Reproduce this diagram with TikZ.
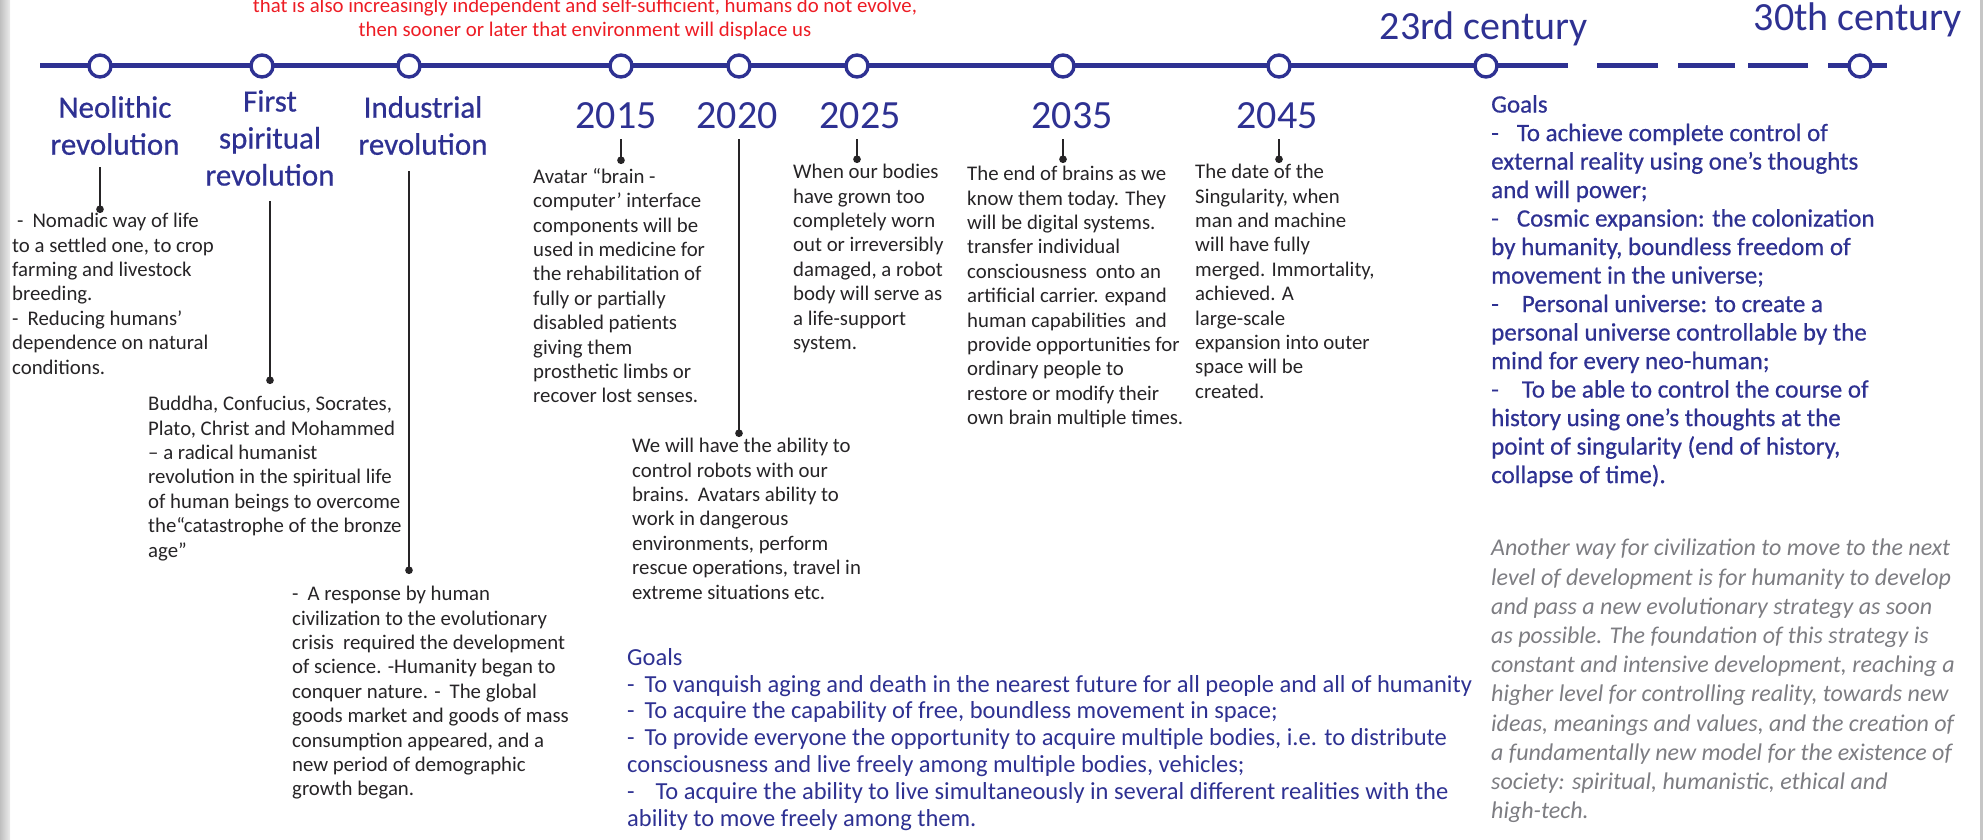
\documentclass[tikz,border=0pt]{standalone}
\usepackage{fontspec}
\setmainfont{Carlito}
\newfontfamily\medfont{Carlito}[FakeBold=0.6]
\usepackage{xcolor}
\usepackage{tikz}
\usetikzlibrary{calc,arrows.meta}

\definecolor{tlblue}{RGB}{46,49,146}
\definecolor{tlred}{RGB}{237,28,36}
\definecolor{txt}{RGB}{38,36,38}
\definecolor{note}{RGB}{125,125,130}

\begin{document}
\begin{tikzpicture}[x=1pt, y=-1pt,
        tl/.style={draw=tlblue, line width=5pt},
        tstop/.style={circle, draw=tlblue, line width=3.4pt, fill=white, minimum size=22pt, inner sep=0pt},
        head/.style={text=tlblue, align=center, anchor=north, inner sep=0pt, font=\medfont\fontsize{31}{37}\selectfont},
        year/.style={text=tlblue, inner sep=0pt, font=\fontsize{40}{44}\selectfont},
        body/.style={text=txt, align=left, anchor=north west, inner sep=0pt, font=\fontsize{20.8}{24.4}\selectfont},
        pin/.style={draw=txt, line width=2.3pt, -{Circle[length=7.5pt]}},
    ]
        \useasboundingbox (0,0) rectangle (1986,840);
        \shade [left color=gray!50, right color=gray!15] (0,0) rectangle (10,840); % page edge
        \fill [gray!45] (1980,0) rectangle (1983,840);

        % red note at the top
        \node [text=tlred, align=center, anchor=south, inner sep=0pt, font=\fontsize{20.8}{24}\selectfont] (warn) at (585,40)
            {that is also increasingly independent and self-sufficient, humans do not evolve,\\
             then sooner or later that environment will displace us};

        % time line
        \coordinate (tl0) at (40,66);
        \coordinate (tl1) at (1568,66);
        \draw [tl] (tl0) -- (tl1);
        \foreach \a/\b in {1597/1658, 1678/1735, 1748/1808, 1828/1887}
            \draw [tl] (\a,66) -- (\b,66);

        \node [tstop] (cneo) at (100,66) {};
        \node [tstop] (cfirst) at (262,66) {};
        \node [tstop] (cind) at (409,66) {};
        \node [tstop] (c2015) at (621,66) {};
        \node [tstop] (c2020) at (739,66) {};
        \node [tstop] (c2025) at (857,66) {};
        \node [tstop] (c2035) at (1063,66) {};
        \node [tstop] (c2045) at (1279,66) {};
        \node [tstop] (c23) at (1486,66) {};
        \node [tstop] (c30) at (1860,66) {};

        % labels of the stops
        \node [head] (hneo) at (115,96) {Neolithic\\revolution};
        \node [head] (hfirst) at (270,90) {First\\spiritual\\revolution};
        \node [head] (hind) at (423,96) {Industrial\\revolution};
        \node [year] (y2015) at (616,116) {2015};
        \node [year] (y2020) at (737,116) {2020};
        \node [year] (y2025) at (860,116) {2025};
        \node [year] (y2035) at (1072,116) {2035};
        \node [year] (y2045) at (1277,116) {2045};
        \node [year, anchor=base] (y23) at (1484,40) {23rd century};
        \node [year, anchor=base] (y30) at (1858,31) {30th century};

        % texts
        \node [body] (bneo) at (12,213) {\hspace{5pt}-\hspace{9pt}Nomadic way of life\\
            to a settled one, to crop\\
            farming and livestock\\
            breeding.\\
            -\hspace{9pt}Reducing humans’\\
            dependence on natural\\
            conditions.};
        \node [body] (bfirst) at (148,396) {Buddha, Confucius, Socrates,\\
            Plato, Christ and Mohammed\\
            – a radical humanist\\
            revolution in the spiritual life\\
            of human beings to overcome\\
            the“catastrophe of the bronze\\
            age”};
        \node [body] (bind) at (292,586) {-\hspace{9pt}A response by human\\
            civilization to the evolutionary\\
            crisis\hspace{9pt}required the development\\
            of science. -Humanity began to\\
            conquer nature. -\hspace{9pt}The global\\
            goods market and goods of mass\\
            consumption appeared, and a\\
            new period of demographic\\
            growth began.};
        \node [body] (b2015) at (533,168) {Avatar “brain -\\
            computer’ interface\\
            components will be\\
            used in medicine for\\
            the rehabilitation of\\
            fully or partially\\
            disabled patients\\
            giving them\\
            prosthetic limbs or\\
            recover lost senses.};
        \node [body] (b2020) at (632,438) {We will have the ability to\\
            control robots with our\\
            brains.\hspace{9pt}Avatars ability to\\
            work in dangerous\\
            environments, perform\\
            rescue operations, travel in\\
            extreme situations etc.};
        \node [body] (b2025) at (793,164) {When our bodies\\
            have grown too\\
            completely worn\\
            out or irreversibly\\
            damaged, a robot\\
            body will serve as\\
            a life-support\\
            system.};
        \node [body] (b2035) at (967,166) {The end of brains as we\\
            know them today. They\\
            will be digital systems.\\
            transfer individual\\
            consciousness\hspace{9pt}onto an\\
            artificial carrier. expand\\
            human capabilities\hspace{9pt}and\\
            provide opportunities for\\
            ordinary people to\\
            restore or modify their\\
            own brain multiple times.};
        \node [body] (b2045) at (1195,164) {The date of the\\
            Singularity, when\\
            man and machine\\
            will have fully\\
            merged. Immortality,\\
            achieved. A\\
            large-scale\\
            expansion into outer\\
            space will be\\
            created.};

        % goals
        \node [body, text=tlblue, font=\fontsize{24.5}{26.8}\selectfont] (goals1) at (627,648) {Goals\\
            -\hspace{10pt}To vanquish aging and death in the nearest future for all people and all of humanity\\
            -\hspace{10pt}To acquire the capability of free, boundless movement in space;\\
            -\hspace{10pt}To provide everyone the opportunity to acquire multiple bodies, i.e. to distribute\\
            consciousness and live freely among multiple bodies, vehicles;\\
            -\hspace{21pt}To acquire the ability to live simultaneously in several different realities with the\\
            ability to move freely among them.};
        \node [body, text=tlblue, font=\medfont\fontsize{25}{28.5}\selectfont] (goals2) at (1491,95) {Goals\\
            -\hspace{18pt}To achieve complete control of\\
            external reality using one’s thoughts\\
            and will power;\\
            -\hspace{18pt}Cosmic expansion: the colonization\\
            by humanity, boundless freedom of\\
            movement in the universe;\\
            -\hspace{23pt}Personal universe: to create a\\
            personal universe controllable by the\\
            mind for every neo-human;\\
            -\hspace{23pt}To be able to control the course of\\
            history using one’s thoughts at the\\
            point of singularity (end of history,\\
            collapse of time).};
        \node [body, text=note, font=\itshape\fontsize{24}{29.2}\selectfont] (other) at (1491,539) {Another way for civilization to move to the next\\
            level of development is for humanity to develop\\
            and pass a new evolutionary strategy as soon\\
            as possible. The foundation of this strategy is\\
            constant and intensive development, reaching a\\
            higher level for controlling reality, towards new\\
            ideas, meanings and values, and the creation of\\
            a fundamentally new model for the existence of\\
            society: spiritual, humanistic, ethical and\\
            high-tech.};

        % pins
        \draw [pin, shorten <=12pt, shorten >=0pt] (hneo.south -| cneo) -- (bneo.north -| cneo);
        \draw [pin, shorten <=15pt, shorten >=12pt] (hfirst.south) -- (bfirst.north -| hfirst.south);
        \draw [pin, shorten <=16pt, shorten >=12pt] (hind.south -| cind) -- (bind.north -| cind);
        \draw [pin, shorten <=10pt, shorten >=4pt] (y2015.south -| c2015) -- (b2015.north -| c2015);
        \draw [pin, shorten <=10pt, shorten >=1pt] (y2020.south -| c2020) -- (b2020.north -| c2020);
        \draw [pin, shorten <=10pt, shorten >=1pt] (y2025.south -| c2025) -- (b2025.north -| c2025);
        \draw [pin, shorten <=10pt, shorten >=3pt] (y2035.south -| c2035) -- (b2035.north -| c2035);
        \draw [pin, shorten <=10pt, shorten >=1pt] (y2045.south -| c2045) -- (b2045.north -| c2045);
    \end{tikzpicture}
\end{document}
